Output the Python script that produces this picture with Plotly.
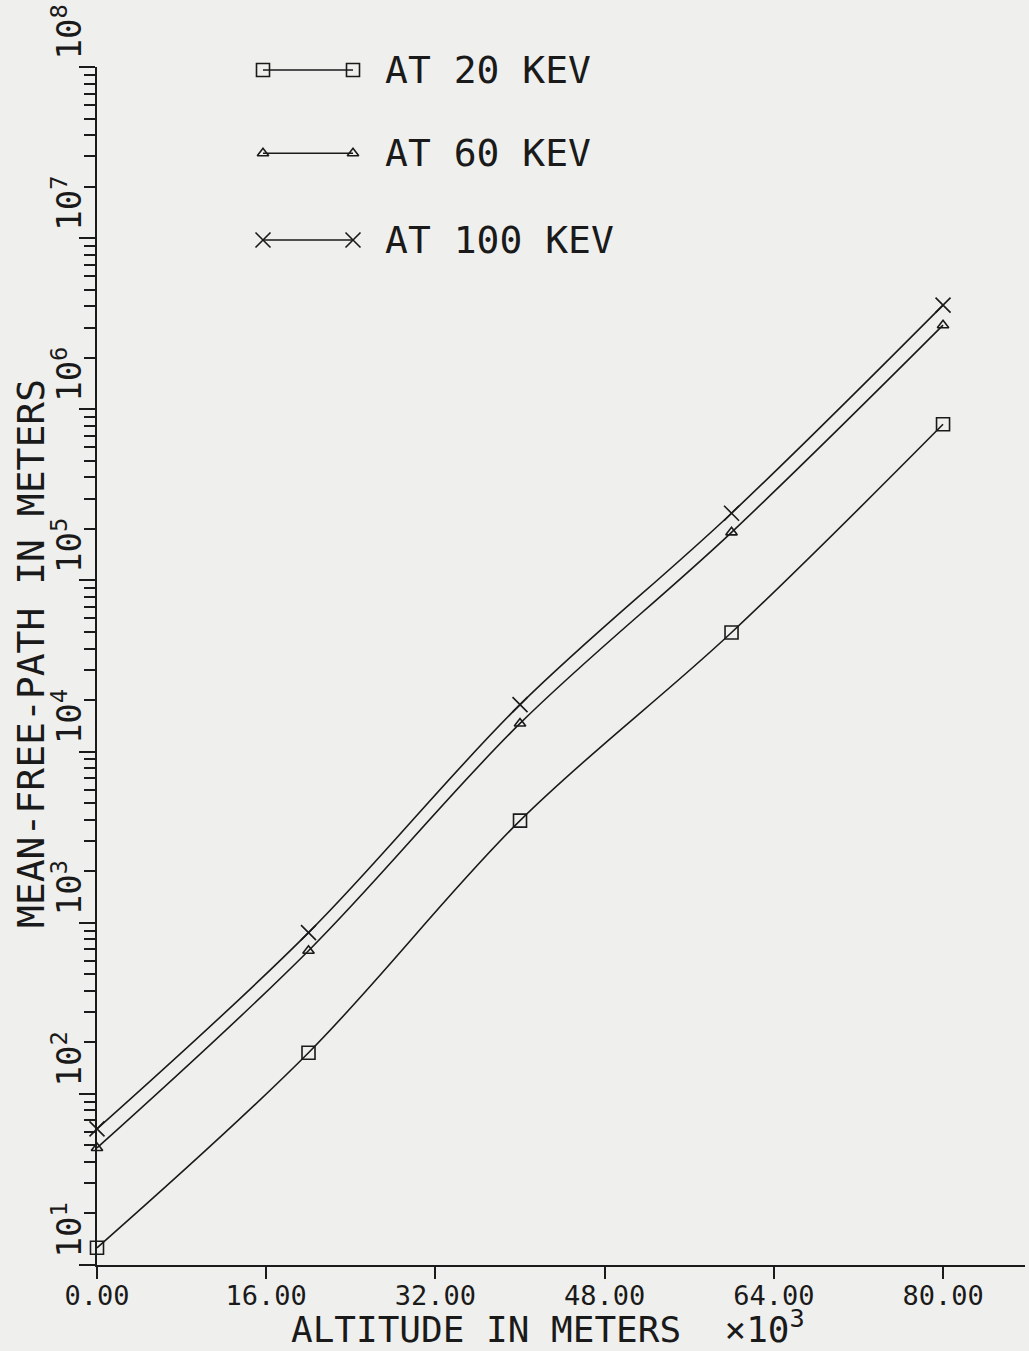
import plotly.graph_objects as go

# ---- data (altitude in units of 10^3 m, mean free path in meters) ----
altitude = [0, 20, 40, 60, 80]
mfp_20kev = [12.6, 174, 3950, 49600, 8.17e5]
mfp_60kev = [48.3, 686, 14600, 1.91e5, 3.10e6]
mfp_100kev = [62.4, 875, 18800, 2.47e5, 4.06e6]

series_names = ["AT 20 KEV", "AT 60 KEV", "AT 100 KEV"]
series_values = [mfp_20kev, mfp_60kev, mfp_100kev]
series_symbols = ["square-open", "triangle-up-open", "x-thin-open"]
series_sizes = [13, 10, 15]

x_tick_vals = [0, 16, 32, 48, 64, 80]
x_tick_text = ["0.00", "16.00", "32.00", "48.00", "64.00", "80.00"]
y_exponents = [1, 2, 3, 4, 5, 6, 7, 8]
y_tick_text = ["10<sup>%d</sup>" % e for e in y_exponents]

FONT = "DejaVu Sans Mono"
INK = "#1a1a1a"
BG = "#efefed"

fig = go.Figure()

for name, vals, sym, sz in zip(series_names, series_values, series_symbols, series_sizes):
    fig.add_trace(go.Scatter(
        x=altitude, y=vals, mode="lines+markers", name=name,
        line=dict(color=INK, width=1.6, shape="spline", smoothing=1.0),
        marker=dict(symbol=sym, size=sz, color=INK, line=dict(color=INK, width=1.6)),
        showlegend=False, cliponaxis=False,
        xaxis="x", yaxis="y",
    ))

# ---- hand-drawn style legend on a hidden helper subplot ----
legend_rows = [0.9975, 0.928, 0.8556]  # paper fractions of the rows
for name, sym, sz, row in zip(series_names, series_symbols, series_sizes, legend_rows):
    fig.add_trace(go.Scatter(
        x=[0, 1], y=[row, row], mode="lines+markers",
        line=dict(color=INK, width=1.4),
        marker=dict(symbol=sym, size=sz, color=INK, line=dict(color=INK, width=1.6)),
        showlegend=False, cliponaxis=False, hoverinfo="skip",
        xaxis="x2", yaxis="y2",
    ))
    fig.add_annotation(
        x=0.308, y=row, xref="paper", yref="paper", text=name,
        showarrow=False, xanchor="left", yanchor="middle",
        font=dict(family=FONT, size=38, color=INK),
    )

minor_vals = [m * 10 ** e for e in y_exponents[:-1] for m in range(2, 10)]

fig.update_layout(
    width=1029, height=1351,
    margin=dict(l=97, r=4, t=67, b=86),
    paper_bgcolor=BG, plot_bgcolor="rgba(0,0,0,0)",
    showlegend=False,
    xaxis=dict(
        range=[0, 87.75], showgrid=False, zeroline=False,
        showline=True, linecolor=INK, linewidth=2,
        ticks="outside", ticklen=12, tickwidth=2, tickcolor=INK,
        tickvals=x_tick_vals, ticktext=x_tick_text,
        tickfont=dict(family=FONT, size=27, color=INK),
        ticklabelstandoff=-6,
    ),
    yaxis=dict(
        type="log", range=[1, 8], showgrid=False, zeroline=False,
        showline=True, linecolor=INK, linewidth=2,
        ticks="outside", ticklen=16, tickwidth=2, tickcolor=INK,
        tickvals=[10 ** e for e in y_exponents], ticktext=y_tick_text,
        tickangle=-90, ticklabelshift=-30, ticklabelstandoff=-16,
        tickfont=dict(family=FONT, size=34, color=INK),
        minor=dict(tickvals=minor_vals, ticks="outside", ticklen=11,
                   tickwidth=1.5, tickcolor=INK),
    ),
    xaxis2=dict(domain=[(263 - 97) / 928, (353 - 97) / 928], range=[0, 1],
                visible=False, anchor="y2", fixedrange=True),
    yaxis2=dict(domain=[0, 1], range=[0, 1], visible=False, anchor="x2",
                fixedrange=True),
)

fig.add_annotation(
    x=(548 - 97) / 928, y=-0.0515, xref="paper", yref="paper",
    text="ALTITUDE IN METERS  \u00d710<sup>3</sup>",
    showarrow=False, xanchor="center", yanchor="middle",
    font=dict(family=FONT, size=36, color=INK),
)
fig.add_annotation(
    x=(31 - 97) / 928, y=0.51, xref="paper", yref="paper",
    text="MEAN-FREE-PATH IN METERS", textangle=-90,
    showarrow=False, xanchor="center", yanchor="middle",
    font=dict(family=FONT, size=38, color=INK),
)

fig.write_html(
    "out.html",
    config={"displayModeBar": False},
    post_script=["document.body.style.margin='0';"
                 "document.body.style.overflow='hidden';"
                 "document.body.style.background='%s';" % BG],
)
